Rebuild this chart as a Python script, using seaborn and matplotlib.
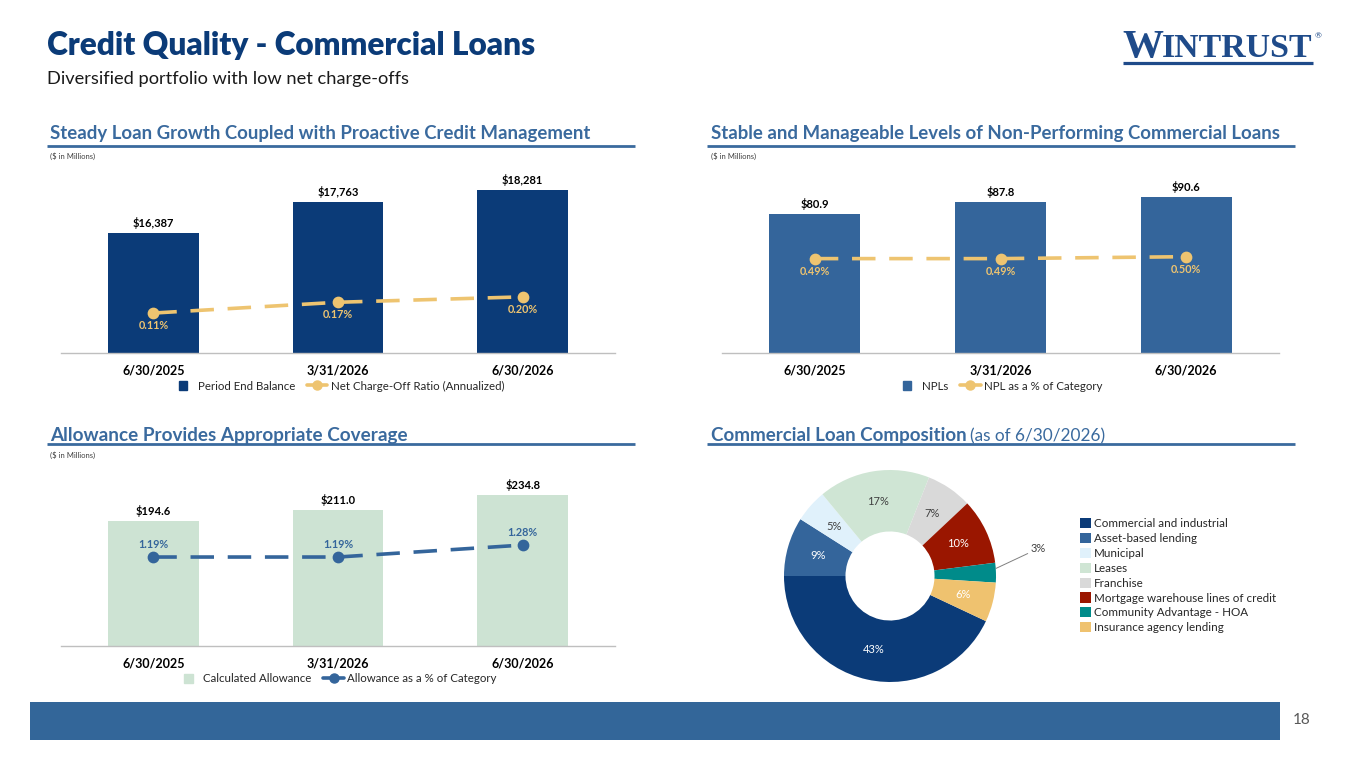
import matplotlib
matplotlib.use('Agg')
import matplotlib.pyplot as plt
import seaborn as sns
import pandas as pd
import numpy as np
from matplotlib.patches import Patch, Rectangle
from matplotlib.lines import Line2D
from matplotlib.legend_handler import HandlerPatch

# ---------------- data ----------------
periods = ['6/30/2025', '3/31/2026', '6/30/2026']

loan_balance = [16387, 17763, 18281]
nco_ratio = [0.11, 0.17, 0.20]

npl_values = [80.9, 87.8, 90.6]
npl_pct = [0.49, 0.49, 0.50]

allowance_values = [194.6, 211.0, 234.8]
allowance_pct = [1.19, 1.19, 1.28]

comp_categories = ['Commercial and industrial', 'Asset-based lending', 'Municipal', 'Leases',
                   'Franchise', 'Mortgage warehouse lines of credit', 'Community Advantage - HOA',
                   'Insurance agency lending']
comp_shares = [43, 9, 5, 17, 7, 10, 3, 6]

# ---------------- style ----------------
NAVY = '#0b3b78'
MID = '#34659b'
GOLD = '#eec470'
GREEN = '#cde3d3'
HEAD = '#3a6a9e'
LOGO = '#1f4b8a'
comp_colors = ['#0b3b78', '#34659b', '#e0f1fb', '#cfe5d4', '#d9d9d9', '#9a1600', '#008b8a', '#efc26f']
comp_label_colors = ['white', 'white', '#404040', '#404040', '#404040', 'white', '#404040', 'white']

W, H = 1365, 768
sns.set_theme(style='white')
plt.rcParams['font.family'] = ['Lato', 'DejaVu Sans']
fig = plt.figure(figsize=(13.65, 7.68), dpi=100)
fig.patch.set_facecolor('white')
renderer = fig.canvas.get_renderer()


def px_axes(x0, y0, x1, y1):
    return fig.add_axes([x0 / W, 1 - y1 / H, (x1 - x0) / W, (y1 - y0) / H])


def ftext(x, y, s, **kw):
    return fig.text(x / W, 1 - y / H, s, **kw)


def fit_text(x, y, s, target_w, **kw):
    t = ftext(x, y, s, **kw)
    for _ in range(3):
        w = t.get_window_extent(renderer).width
        t.set_fontsize(t.get_fontsize() * target_w / w)
    return t


def hline(x0, x1, y, color, lw):
    fig.add_artist(Line2D([x0 / W, x1 / W], [1 - y / H, 1 - y / H], color=color, lw=lw,
                          transform=fig.transFigure, solid_capstyle='butt'))


def square_patch(legend, orig_handle, xdescent, ydescent, width, height, fontsize):
    s = height * 1.1
    return Rectangle((width - s - xdescent - 5, (height - s) / 2 - ydescent), s, s)


# ---------------- titles ----------------
fit_text(47, 45, 'Credit Quality - Commercial Loans', 490, fontsize=24, fontweight='heavy',
         color=NAVY, va='center')
fit_text(47, 79, 'Diversified portfolio with low net charge-offs', 363, fontsize=13,
         color='#1a1a1a', va='center')

# logo
fit_text(1122, 57, 'W', 41, fontsize=34, family='Liberation Serif', fontweight='bold',
         color=LOGO, va='baseline')
fit_text(1162, 57, 'INTRUST', 150, fontsize=26, family='Liberation Serif', fontweight='bold',
         color=LOGO, va='baseline')
ftext(1318, 36, '®', fontsize=6, color=LOGO, va='center', ha='center')
hline(1123, 1313, 62.5, LOGO, 2.3)

# section headers
fit_text(50, 134, 'Steady Loan Growth Coupled with Proactive Credit Management', 540,
         fontsize=12, fontweight='bold', color=HEAD, va='center')
fit_text(711, 134, 'Stable and Manageable Levels of Non-Performing Commercial Loans', 568,
         fontsize=12, fontweight='bold', color=HEAD, va='center')
fit_text(50, 436, 'Allowance Provides Appropriate Coverage', 354,
         fontsize=12, fontweight='bold', color=HEAD, va='center')
th = fit_text(711, 436, 'Commercial Loan Composition', 257,
              fontsize=12, fontweight='bold', color=HEAD, va='center')
bb = th.get_window_extent(renderer)
ftext(711 + bb.width + 3, 436, '(as of 6/30/2026)', fontsize=th.get_fontsize() * 0.92,
      color=HEAD, va='center')
for y in (146, 444):
    hline(47, 635, y, HEAD, 2)
    hline(707, 1295, y, HEAD, 2)
for (x, y) in ((50, 156), (711, 156), (50, 455)):
    ftext(x, y, '($ in Millions)', fontsize=5.5, color='#404040', va='center')


# ---------------- combo charts ----------------
def combo(x0, x1, ytop, ybase, values, pct, ylim, ylim2, bar_color, line_color,
          val_fmt, pct_off, legend_labels, legend_cx):
    ax = px_axes(x0, ytop, x1, ybase)
    df = pd.DataFrame({'period': periods, 'value': values, 'pct': pct})
    sns.barplot(data=df, x='period', y='value', color=bar_color, width=0.49, saturation=1,
                linewidth=0, ax=ax)
    ax.set_ylim(*ylim)
    ax.set_xlim(-0.5, 2.5)
    ax.bar_label(ax.containers[0], labels=[val_fmt(v) for v in values], padding=3,
                 fontsize=8, fontweight='bold', color='black')
    for s in ('top', 'left', 'right'):
        ax.spines[s].set_visible(False)
    ax.spines['bottom'].set_color('#bfbfbf')
    ax.spines['bottom'].set_linewidth(1)
    ax.set_xlabel('')
    ax.set_ylabel('')
    ax.set_yticks([])
    ax.tick_params(axis='x', length=0, pad=8, labelsize=9)
    for lab in ax.get_xticklabels():
        lab.set_fontweight('bold')
        lab.set_color('black')

    ax2 = ax.twinx()
    sns.pointplot(data=df, x='period', y='pct', color=line_color, markers='o',
                  linestyles='--', markersize=6.5, linewidth=2.6, errorbar=None, ax=ax2)
    for ln in ax2.lines:
        ln.set_dashes((6.5, 3.8))
    ax2.set_ylim(*ylim2)
    ax2.set_xlim(-0.5, 2.5)
    ax2.set_yticks([])
    ax2.set_ylabel('')
    ax2.set_xlabel('')
    for s in ax2.spines.values():
        s.set_visible(False)
    for i, p in enumerate(pct):
        ax2.annotate(f'{p:.2f}%', (i, p), xytext=(0, pct_off), textcoords='offset points',
                     ha='center', va='center', fontsize=7.8, fontweight='bold',
                     color=line_color)

    handles = [Patch(color=bar_color),
               Line2D([0], [0], color=line_color, marker='o', lw=2.6, ms=6.5)]
    fig.legend(handles, legend_labels, loc='center',
               bbox_to_anchor=(legend_cx / W, 1 - (ybase + 33) / H),
               ncol=2, frameon=False, fontsize=8.3, handlelength=1.8, handletextpad=0.3,
               columnspacing=1.0,
               handler_map={Patch: HandlerPatch(patch_func=square_patch)})
    return ax, ax2


combo(61, 615, 170, 353, loan_balance, nco_ratio, (11100, 19160), (-0.112, 0.905),
      NAVY, GOLD, lambda v: f'${v:,.0f}', -9,
      ['Period End Balance', 'Net Charge-Off Ratio (Annualized)'], 339)

combo(722, 1279, 170, 353, npl_values, npl_pct, (0, 106.3), (0, 0.95),
      MID, GOLD, lambda v: f'${v:.1f}', -9,
      ['NPLs', 'NPL as a % of Category'], 1000)

combo(61, 615, 463, 646, allowance_values, allowance_pct, (0, 284.6), (0.521, 1.897),
      GREEN, MID, lambda v: f'${v:.1f}', 9,
      ['Calculated Allowance', 'Allowance as a % of Category'], 338)

# ---------------- donut ----------------
cx, cy, r = 890, 576, 106
axp = px_axes(cx - r, cy - r, cx + r, cy + r)
wedges, texts, autotexts = axp.pie(
    comp_shares, colors=comp_colors, startangle=-25.2, counterclock=False, radius=1,
    wedgeprops=dict(width=0.58, linewidth=0), autopct=lambda p: f'{p:.0f}%',
    pctdistance=0.71, textprops=dict(fontsize=8))
for at, c in zip(autotexts, comp_label_colors):
    at.set_color(c)
axp.set_xlim(-1, 1)
axp.set_ylim(-1, 1)
axp.set_aspect('equal')
axp.axis('off')

# small slice label outside with leader line
small = comp_shares.index(min(comp_shares))
autotexts[small].set_visible(False)
wd = wedges[small]
mid = np.deg2rad((wd.theta1 + wd.theta2) / 2)
axp.annotate(f'{comp_shares[small]}%', xy=(np.cos(mid) * 1.0, np.sin(mid) * 1.0 + 0.04),
             xytext=(1.33, 0.26), textcoords='data', ha='left', va='center', fontsize=8,
             color='#404040', annotation_clip=False,
             arrowprops=dict(arrowstyle='-', color='#7f7f7f', lw=0.7, shrinkA=0, shrinkB=0))

fig.legend(wedges, comp_categories, loc='upper left', bbox_to_anchor=(1080 / W, 1 - 518 / H),
           frameon=False, fontsize=8.4, handlelength=0.95, handleheight=0.95,
           labelspacing=0.33, handletextpad=0.25, borderaxespad=0, borderpad=0)

# ---------------- footer ----------------
fig.add_artist(Rectangle((30 / W, 1 - 740 / H), 1250 / W, 38 / H, color='#336699',
                         transform=fig.transFigure, lw=0))
ftext(1302, 720, '18', fontsize=11, color='#595959', ha='center', va='center')

fig.savefig('out.png', dpi=100, facecolor='white')
